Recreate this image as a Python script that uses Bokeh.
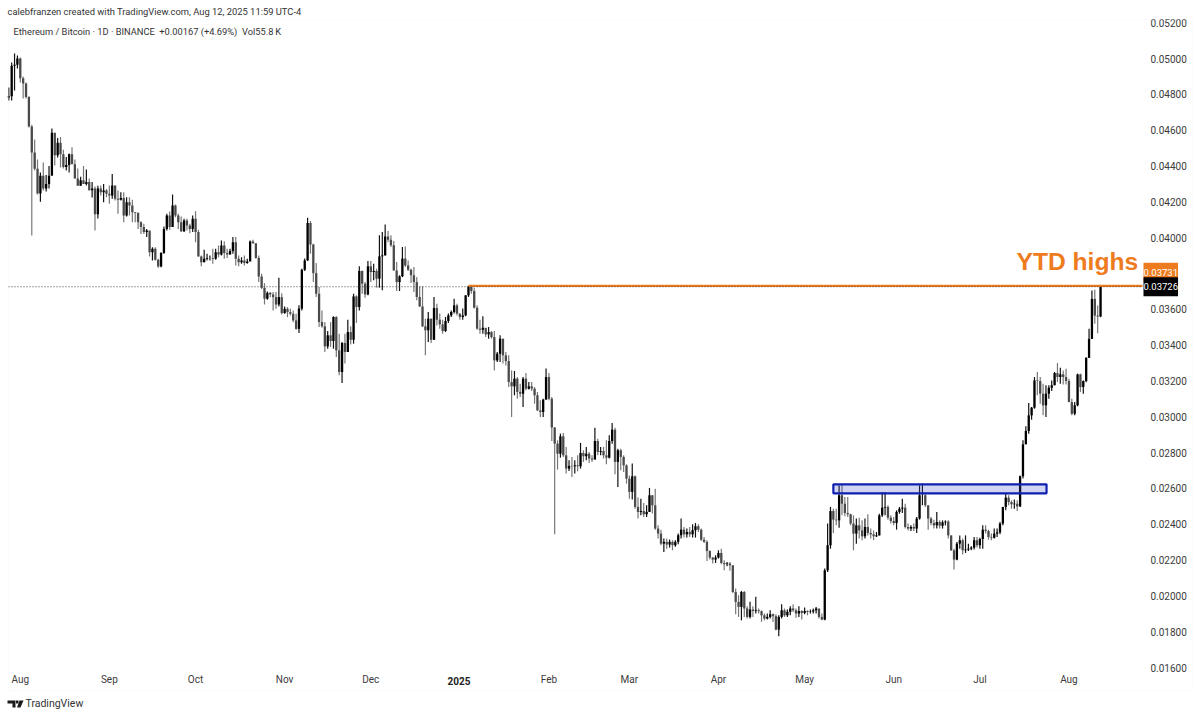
from bokeh.embed import file_html
from bokeh.resources import INLINE
from bokeh.plotting import figure
from bokeh.models import (ColumnDataSource, FixedTicker, NumeralTickFormatter, Label,
                          Range1d, PolyAnnotation, LinearAxis)

# ETH/BTC daily candles, 2024-07-28 .. 2025-08-12, in units of 0.00001 BTC
first_open = 4782
closes = [
4790,4960,4965,5000,4890,4860,4785,4620,4475,4385,4247,4345,4275,4300,4345,4585,4460,4530,4465,4395,
4405,4465,4410,4330,4290,4320,4300,4310,4265,4275,4130,4275,4254,4263,4245,4235,4291,4217,4211,4222,
4124,4198,4180,4142,4137,4086,4059,4031,4040,3919,3938,3876,3839,3914,4049,4124,4059,4180,4124,4086,
4036,4096,4068,4049,4105,4031,3895,3863,3882,3887,3887,3882,3919,3906,3956,3914,3906,3925,3975,3882,
3863,3873,3858,3867,3979,3969,3887,3783,3720,3659,3692,3683,3668,3627,3668,3579,3603,3584,3575,3538,
3491,3604,3821,3873,4082,3962,3802,3687,3529,3505,3393,3455,3423,3557,3371,3250,3412,3362,3473,3430,
3672,3613,3814,3743,3683,3840,3808,3814,3771,3896,3901,4007,3989,3957,3817,3752,3784,3883,3845,3821,
3790,3752,3669,3616,3505,3483,3548,3430,3607,3542,3516,3479,3535,3566,3585,3622,3576,3557,3566,3678,
3728,3702,3609,3492,3486,3497,3460,3473,3445,3315,3352,3436,3343,3311,3194,3170,3213,3139,3129,3213,
3157,3170,3157,3120,3036,3027,3096,3222,3101,2940,2850,2794,2891,2785,2711,2726,2724,2729,2724,2798,
2780,2794,2767,2761,2865,2804,2809,2785,2772,2865,2928,2748,2813,2776,2729,2655,2581,2668,2497,2469,
2474,2456,2469,2562,2506,2376,2348,2292,2302,2287,2302,2283,2302,2339,2370,2344,2357,2344,2367,2389,
2370,2314,2302,2251,2214,2203,2214,2240,2184,2177,2181,2171,2022,1967,1939,2022,1930,1883,1924,1916,
1920,1915,1892,1874,1883,1898,1887,1812,1883,1920,1892,1911,1930,1920,1902,1916,1905,1916,1911,1913,
1920,1930,1883,1868,2143,2283,2474,2426,2422,2562,2515,2463,2456,2404,2348,2394,2366,2333,2385,2352,
2344,2333,2338,2450,2493,2497,2437,2418,2407,2469,2487,2493,2385,2376,2385,2376,2432,2562,2562,2506,
2432,2407,2394,2413,2392,2411,2415,2338,2255,2203,2292,2311,2255,2259,2264,2270,2311,2283,2318,2370,
2363,2329,2325,2348,2355,2404,2497,2549,2524,2512,2515,2500,2668,2846,2921,3008,3051,3203,3200,3129,
3064,3129,3162,3176,3244,3222,3237,3222,3200,3082,3017,3064,3237,3166,3200,3329,3435,3658,3565,3560,
3726]
highs = [
4838,4978,5028,5017,5006,4900,4866,4790,4630,4548,4436,4364,4420,4350,4400,4609,4585,4556,4562,4490,
4450,4470,4505,4436,4386,4340,4400,4380,4330,4310,4285,4290,4291,4300,4272,4291,4356,4291,4263,4254,
4254,4226,4226,4211,4142,4142,4092,4077,4049,4031,3947,3947,3882,3919,4062,4133,4146,4241,4185,4133,
4118,4105,4105,4077,4124,4148,4044,3900,3932,3910,3900,3938,3938,3956,3984,3980,3938,3938,4003,4003,
3900,3891,3900,3882,3984,3988,3969,3900,3798,3746,3700,3696,3696,3696,3776,3690,3616,3612,3603,3594,
3575,3622,3827,3883,4111,4093,3966,3858,3724,3594,3529,3479,3529,3561,3561,3464,3418,3464,3542,3505,
3687,3678,3840,3817,3752,3870,3870,3855,3827,4013,4031,4074,4037,4013,3981,3864,3790,3948,3951,3873,
3827,3836,3780,3728,3728,3548,3585,3501,3669,3631,3576,3542,3557,3576,3594,3659,3631,3576,3604,3678,
3731,3731,3721,3622,3542,3561,3492,3501,3479,3479,3362,3455,3436,3362,3343,3259,3256,3222,3185,3222,
3244,3194,3194,3166,3139,3092,3101,3269,3244,3111,2943,2869,2906,2910,2832,2757,2776,2757,2785,2854,
2813,2832,2804,2785,2939,2878,2832,2832,2869,2897,2965,2939,2822,2822,2785,2735,2673,2739,2673,2549,
2543,2519,2506,2603,2562,2599,2394,2370,2320,2320,2315,2311,2311,2348,2432,2385,2376,2385,2400,2407,
2400,2376,2329,2311,2255,2218,2227,2255,2264,2199,2190,2190,2171,2041,2004,2028,2028,1942,1967,1942,
1995,1930,1920,1902,1902,1920,1902,1898,1892,1954,1930,1924,1942,1954,1930,1942,1920,1935,1920,1924,
1930,1939,1924,1902,2153,2404,2497,2487,2487,2617,2627,2552,2552,2459,2450,2432,2437,2422,2432,2456,
2376,2366,2357,2459,2580,2580,2506,2450,2441,2478,2497,2543,2515,2404,2394,2404,2441,2617,2627,2571,
2506,2441,2426,2469,2422,2422,2422,2422,2338,2264,2301,2338,2320,2338,2292,2277,2329,2329,2325,2394,
2394,2370,2348,2376,2376,2413,2497,2571,2562,2534,2538,2534,2673,2869,2947,3077,3055,3222,3250,3222,
3185,3176,3176,3203,3250,3300,3274,3259,3268,3213,3101,3082,3241,3241,3203,3333,3491,3705,3709,3621,
3731]
lows = [
4766,4766,4821,4944,4866,4777,4777,4615,4012,4375,4241,4200,4263,4258,4275,4358,4403,4448,4392,4386,
4375,4364,4431,4330,4291,4291,4302,4291,4263,4224,4040,4107,4235,4198,4226,4189,4217,4207,4133,4207,
4086,4118,4124,4086,4086,4049,4021,4021,4003,3895,3873,3873,3832,3835,3910,4040,4044,4059,4114,4049,
4031,4031,4040,4025,4031,3975,3895,3841,3863,3873,3873,3854,3876,3891,3900,3882,3887,3906,3910,3845,
3841,3854,3845,3854,3873,3966,3882,3752,3714,3627,3653,3668,3594,3603,3616,3571,3575,3556,3566,3528,
3486,3468,3594,3814,3870,3910,3752,3669,3501,3497,3362,3380,3390,3380,3334,3232,3189,3297,3362,3404,
3408,3524,3594,3687,3665,3678,3752,3762,3721,3721,3706,3901,3975,3948,3817,3702,3702,3780,3836,3814,
3747,3697,3650,3613,3501,3343,3418,3412,3430,3510,3492,3464,3473,3524,3557,3576,3566,3542,3542,3561,
3669,3687,3604,3486,3464,3464,3445,3436,3436,3259,3306,3306,3297,3287,3166,2999,3120,3101,3111,3055,
3148,3152,3144,3073,3032,2999,2999,3096,3092,2865,2344,2705,2772,2776,2683,2698,2664,2683,2696,2711,
2748,2757,2742,2748,2772,2785,2785,2767,2735,2767,2850,2679,2608,2701,2692,2627,2543,2538,2487,2432,
2450,2441,2441,2469,2460,2370,2320,2283,2246,2264,2270,2255,2274,2288,2320,2326,2326,2329,2326,2326,
2357,2307,2296,2195,2203,2181,2184,2209,2177,2143,2166,2140,2017,1898,1883,1864,1883,1874,1874,1883,
1902,1902,1855,1864,1868,1874,1855,1809,1775,1874,1883,1883,1892,1911,1879,1883,1868,1898,1892,1902,
1902,1902,1874,1864,1864,2134,2264,2352,2394,2381,2450,2445,2441,2394,2255,2292,2320,2311,2320,2338,
2320,2311,2329,2338,2441,2450,2426,2404,2394,2370,2459,2463,2376,2366,2363,2363,2352,2426,2506,2497,
2370,2394,2376,2376,2376,2376,2394,2320,2251,2147,2199,2264,2232,2240,2251,2255,2259,2270,2264,2264,
2348,2314,2311,2320,2329,2344,2394,2478,2506,2487,2487,2474,2497,2655,2850,2906,2984,3045,3120,3073,
3008,2999,3101,3144,3176,3194,3185,3181,3181,3082,3008,3008,3058,3138,3129,3193,3329,3435,3519,3467,
3556]
y_ticks = [0.016,0.018,0.020,0.022,0.024,0.026,0.028,0.030,0.032,0.034,0.036,
           0.040,0.042,0.044,0.046,0.048,0.050,0.052]
month_ticks = [4,35,65,96,126,188,216,247,277,308,338,369]
month_labels = ["Aug","Sep","Oct","Nov","Dec","Feb","Mar","Apr","May","Jun","Jul","Aug"]
year_label = "2025"
ytd_level = 0.03731
last_price = 0.03726
ytd_start_day = 160
zone_days = (287, 361.2)
zone_prices = (0.02573, 0.02623)

SCALE = 1e-5
c = [v*SCALE for v in closes]
h = [v*SCALE for v in highs]
l = [v*SCALE for v in lows]
o = [first_open*SCALE] + c[:-1]
x = list(range(len(c)))
up = [cc >= oo for cc, oo in zip(c, o)]
src = ColumnDataSource(dict(
    x=x, o=o, h=h, l=l, c=c,
    top=[max(a,b) for a,b in zip(o,c)],
    bot=[min(a,b) for a,b in zip(o,c)],
    body=["#000000" if u else "#4a4a4a" for u in up],
    wick=["#111111" if u else "#777777" for u in up],
))

W, H = 1200, 716
XMIN, XMAX = -2.889, 414.79
YMIN, YMAX = 0.013271, 0.053238
CHART_END = 394.6
ORANGE = "#ee7c1e"
p = figure(width=W, height=H, output_backend="svg", toolbar_location=None,
           x_range=Range1d(XMIN, XMAX), y_range=Range1d(YMIN, YMAX),
           x_axis_location=None, y_axis_location=None,
           min_border=0, outline_line_color=None,
           background_fill_color="white", border_fill_color="white")
p.grid.visible = False

FONT = "Roboto"
xax = LinearAxis(ticker=FixedTicker(ticks=month_ticks),
                 major_label_overrides=dict(zip(month_ticks, month_labels)),
                 fixed_location=0.01585)
yax = LinearAxis(ticker=FixedTicker(ticks=y_ticks),
                 formatter=NumeralTickFormatter(format="0.00000"),
                 fixed_location=CHART_END)
for ax in (xax, yax):
    ax.axis_line_color = None
    ax.major_tick_line_color = None
    ax.minor_tick_line_color = None
    ax.major_tick_out = 0
    ax.major_tick_in = 0
    ax.major_label_text_font = FONT
    ax.major_label_text_font_size = "10px"
    ax.major_label_text_color = "#3b3b3b"
xax.major_label_standoff = 4
yax.major_label_standoff = 8
p.add_layout(xax, "below")
p.add_layout(yax, "right")

p.segment("x","l","x","h", source=src, line_color="wick", line_width=1.2)
p.vbar("x", 0.8, "bot", "top", source=src, fill_color="body", line_color=None)

p.line([ytd_start_day, CHART_END], [ytd_level, ytd_level], line_color=ORANGE, line_width=2.2)
p.line([-0.1, CHART_END], [last_price, last_price], line_color="#444444",
       line_width=1, line_dash=[1, 2])
p.quad(left=[zone_days[0]], right=[zone_days[1]], bottom=[zone_prices[0]], top=[zone_prices[1]],
       fill_color="#3f4fd0", fill_alpha=0.24, line_color="#0f1fb0", line_width=2.2)

def text(t, sx, sy, size, color="#333333", style="normal", font=FONT, **kw):
    p.add_layout(Label(x=sx, y=H-sy, x_units="screen", y_units="screen", text=t,
                       text_font=font, text_font_size=size, text_color=color,
                       text_font_style=style, text_baseline="middle", **kw))

text("calebfranzen created with TradingView.com, Aug 12, 2025 11:59 UTC-4", 7, 11, "9.4px")
text("Ethereum / Bitcoin \u00b7 1D \u00b7 BINANCE \u00a0+0.00167 (+4.69%) \u00a0Vol55.8\u2009K", 13, 31, "9.3px")
text("YTD highs", 1016, 261, "24.6px", color=ORANGE, style="bold", font="Liberation Sans")
text("TradingView", 25, 703, "10.5px")
text(year_label, 447, 680, "10px", color="#222222", style="bold")

for value, off, bg in ((ytd_level, 13.5, ORANGE), (last_price, 0, "#000000")):
    sy = (value-YMIN)/(YMAX-YMIN)*H + off
    p.add_layout(Label(x=1143, y=sy, x_units="screen", y_units="screen",
                       text=f"{value:.5f}", text_font=FONT, text_font_size="9.5px",
                       text_color="white", text_baseline="middle",
                       background_fill_color=bg, padding=(0, 6)))

def poly(xs, ys, **kw):
    p.add_layout(PolyAnnotation(xs=list(xs), ys=[H-b for b in ys],
                                xs_units="screen", ys_units="screen", **kw))
poly([7,15,15,12,12,7],[700,700,707,707,703,703], fill_color="#1a1a1a", fill_alpha=1, line_color=None)
poly([15.5,18,18,15.5],[700,700,703,703], fill_color="#1a1a1a", fill_alpha=1, line_color=None)
poly([19,23,20,16.5],[700,700,707,707], fill_color="#1a1a1a", fill_alpha=1, line_color=None)
poly([8,1192,1192,8],[19,19,690,690], fill_color=None, fill_alpha=0, line_color="#f0f1f5", line_width=1)

open("out.html","w").write(file_html(p, INLINE))
